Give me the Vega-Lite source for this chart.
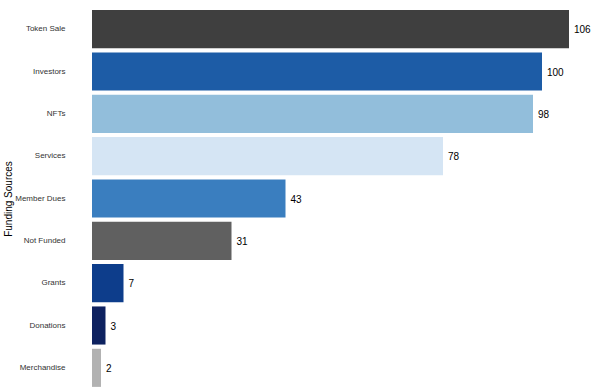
{
  "$schema": "https://vega.github.io/schema/vega-lite/v6.json",
  "width": 477,
  "height": 381,
  "autosize": {"type": "none"},
  "padding": {"left": 92, "top": 8, "right": 31, "bottom": 3},
  "background": "white",
  "config": {"view": {"stroke": null}, "font": "Liberation Sans"},
  "data": {"values": [
    {"source": "Token Sale", "count": 106, "color": "#3f3f3f"},
    {"source": "Investors", "count": 100, "color": "#1d5ca6"},
    {"source": "NFTs", "count": 98, "color": "#92bedb"},
    {"source": "Services", "count": 78, "color": "#d5e5f4"},
    {"source": "Member Dues", "count": 43, "color": "#3a7ebf"},
    {"source": "Not Funded", "count": 31, "color": "#606060"},
    {"source": "Grants", "count": 7, "color": "#0d3d8b"},
    {"source": "Donations", "count": 3, "color": "#0e2260"},
    {"source": "Merchandise", "count": 2, "color": "#b2b2b2"}
  ]},
  "encoding": {
    "y": {
      "field": "source", "type": "nominal", "sort": null,
      "scale": {"paddingInner": 0.1, "paddingOuter": 0.05},
      "axis": {"title": "Funding Sources", "domain": false, "ticks": false, "labelPadding": 27, "labelFontSize": 8, "labelColor": "#333333", "titleFontSize": 10, "titleFontWeight": "normal", "titleColor": "#000000", "titlePadding": 1}
    },
    "x": {
      "field": "count", "type": "quantitative",
      "scale": {"domain": [0, 106], "nice": false},
      "axis": null
    }
  },
  "layer": [
    {"mark": {"type": "bar"}, "encoding": {"color": {"field": "color", "type": "nominal", "scale": null}}},
    {"mark": {"type": "text", "align": "left", "dx": 5, "dy": 1, "fontSize": 10, "color": "#000000"}, "encoding": {"text": {"field": "count", "type": "quantitative"}}}
  ]
}
